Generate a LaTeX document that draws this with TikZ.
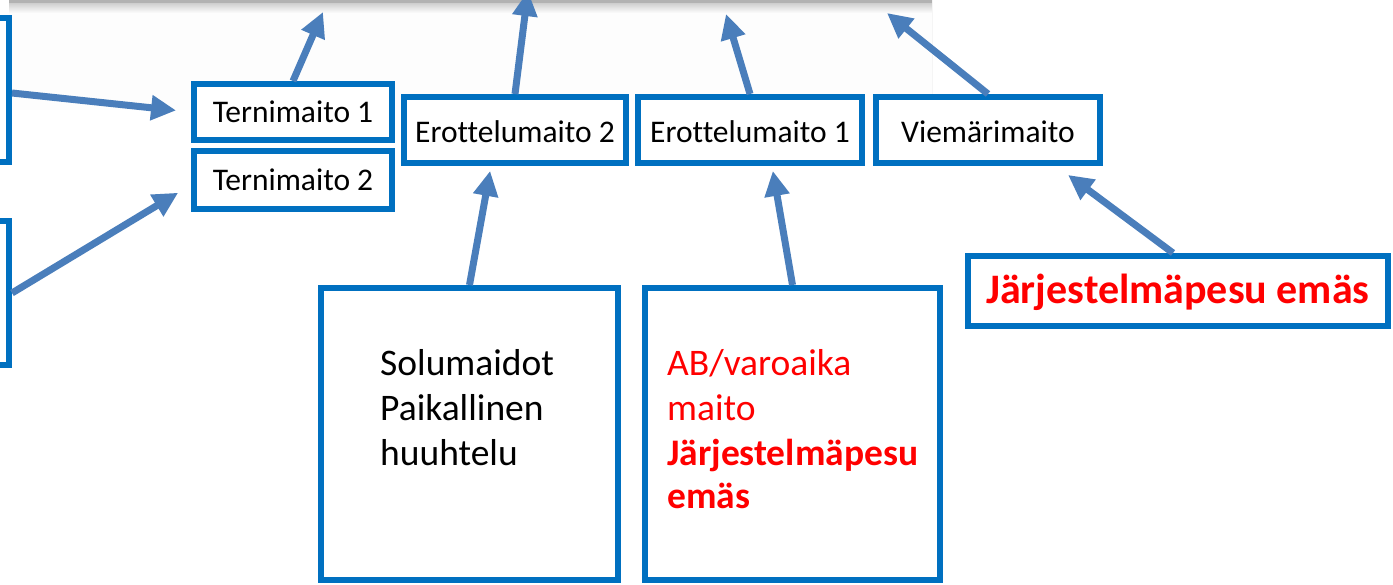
\documentclass[tikz,border=0pt]{standalone}
\usepackage{fontspec}
\setmainfont[Ligatures=NoCommon]{Carlito}
\usetikzlibrary{arrows.meta,calc}
\definecolor{boxblue}{RGB}{0,112,192}
\definecolor{arrblue}{RGB}{74,126,187}
\definecolor{txtred}{RGB}{255,0,0}
\tikzset{
  box/.style={draw=boxblue, line width=6pt, rectangle, inner sep=0pt, fill=white},
  smalltxt/.style={font=\fontsize{31.5}{37}\selectfont, text height=20pt, text depth=0pt},
  midtxt/.style={font=\fontsize{31.5}{37}\selectfont, text height=24pt, text depth=0pt},
  bigline/.style={font=\fontsize{37.5}{44}\selectfont, anchor=base west, inner sep=0pt},
  arr/.style={draw=arrblue, line width=7pt, -{Triangle[length=25pt,width=24pt]}},
}
\begin{document}
\begin{tikzpicture}[x=1pt,y=-1pt]
\useasboundingbox (0,0) rectangle (1393,584);
% top band of the cut-off panel
\fill[gray!1.5] (9,0) rectangle (932,110);
\shade[top color=gray!40, bottom color=gray!1.5] (9,2.5) rectangle (932,13);
\fill[gray!60] (9,0) rectangle (932,2.5);
\draw[gray!8, line width=0.8pt] (932,0) -- (932,110);

% boxes
\node[box, minimum width=309pt, minimum height=144pt] (l1) at (-145.5,90) {};
\node[box, minimum width=309pt, minimum height=144pt] (l2) at (-145.5,293) {};
\node[box, smalltxt, minimum width=198pt, minimum height=56pt] (t1) at (293,112) {Ternimaito 1};
\node[box, smalltxt, minimum width=198pt, minimum height=58pt] (t2) at (293,180) {Ternimaito 2};
\node[box, midtxt, minimum width=222pt, minimum height=66pt] (e2) at (515,130) {Erottelumaito 2};
\node[box, midtxt, minimum width=224pt, minimum height=66pt] (e1) at (750,130) {Erottelumaito 1};
\node[box, midtxt, minimum width=224pt, minimum height=66pt] (v) at (988,130) {Viemärimaito};
\node[box, minimum width=297pt, minimum height=292pt] (solu) at (469.5,434) {};
\node[box, minimum width=295pt, minimum height=292pt] (ab) at (792.5,434) {};
\node[box, font=\bfseries\fontsize{42}{48}\selectfont, text=txtred, text height=25pt, text depth=0pt,
      minimum width=420pt, minimum height=70pt] (jp) at (1178,291) {Järjestelmäpesu emäs};

% texts of the tall boxes
\node[bigline] (s1) at (380,375) {Solumaidot};
\node[bigline] (s2) at (380,420) {Paikallinen};
\node[bigline] (s3) at (380,465) {huuhtelu};
\node[bigline, text=txtred] (a1) at (667,375) {AB/varoaika};
\node[bigline, text=txtred] (a2) at (667,420) {maito};
\node[bigline, text=txtred, font=\bfseries\fontsize{37.5}{44}\selectfont] (a3) at (667,465) {Järjestelmäpesu};
\node[bigline, text=txtred, font=\bfseries\fontsize{37.5}{44}\selectfont] (a4) at (667,508) {emäs};

% free ends of the upward arrows
\coordinate (t1top) at (323,12);
\coordinate (e2top) at (528,-9);
\coordinate (e1top) at (726,14);
\coordinate (vtop) at (887,13);

% connectors
\draw[arr] (t1.north) -- (t1top);
\draw[arr] (e2.north) -- (e2top);
\draw[arr] (e1.north) -- (e1top);
\draw[arr] (v.north) -- (vtop);
\draw[arr, shorten >=15pt] ([yshift=-3pt]l1.east) -- (t1.west);
\draw[arr, shorten >=15pt] (l2.east) -- ([yshift=-5pt]t2.west);
\draw[arr, shorten >=5pt] (solu.north) -- ([xshift=-24pt]e2.south);
\draw[arr, shorten >=5pt] (ab.north) -- ([xshift=22pt]e1.south);
\draw[arr, shorten >=15pt] ([xshift=-5pt]jp.north) -- ([xshift=68pt]v.south);
\end{tikzpicture}
\end{document}
